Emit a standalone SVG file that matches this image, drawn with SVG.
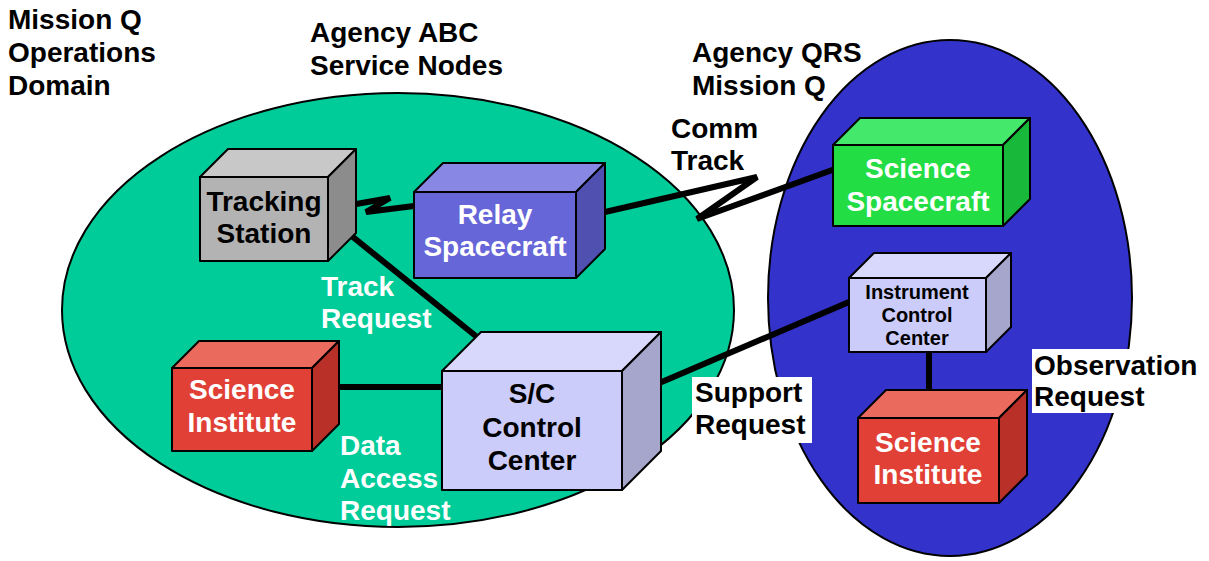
<svg xmlns="http://www.w3.org/2000/svg" width="1209" height="561" viewBox="0 0 1209 561">
<style>
text{font-family:"Liberation Sans",Arial,sans-serif;font-weight:bold;font-size:28px}
.w{fill:#ffffff}
.k{fill:#000000}
.c{text-anchor:middle}
.s{font-size:20px}
.b{stroke:#000;stroke-width:2;stroke-linejoin:round}
.ln{fill:none;stroke:#000;stroke-width:6;stroke-linejoin:miter}
</style>
<rect width="1209" height="561" fill="#ffffff"/>
<g id="domain-green">
<ellipse cx="398" cy="310" rx="336" ry="217" fill="#00cc99" stroke="#000" stroke-width="2"/>
</g>
<g id="domain-blue">
<ellipse cx="950" cy="298" rx="182" ry="258" fill="#3333cc" stroke="#000" stroke-width="2"/>
</g>
<g id="labels">
<text class="k" x="8" y="29">Mission Q</text>
<text class="k" x="8" y="62">Operations</text>
<text class="k" x="8" y="95">Domain</text>
<text class="k" x="310" y="42">Agency ABC</text>
<text class="k" x="310" y="75">Service Nodes</text>
<text class="k" x="692" y="62">Agency QRS</text>
<text class="k" x="692" y="95">Mission Q</text>
<text class="k" x="671" y="138">Comm</text>
<text class="k" x="671" y="170">Track</text>
<text class="w" x="321" y="296">Track</text>
<text class="w" x="321" y="328">Request</text>
<text class="w" x="340" y="455">Data</text>
<text class="w" x="340" y="488">Access</text>
<text class="w" x="340" y="520">Request</text>
<rect x="692" y="377" width="120" height="66" fill="#ffffff"/>
<text class="k" x="695" y="402">Support</text>
<text class="k" x="695" y="434">Request</text>
<rect x="1032" y="349" width="168" height="64" fill="#ffffff"/>
<text class="k" x="1034" y="375">Observation</text>
<text class="k" x="1034" y="406">Request</text>
</g>
<g id="connectors">
<polyline class="ln" points="345,206 390,198 366,212 414,206"/>
<polyline class="ln" points="592,215 757,177 697,219 835,169"/>
<line class="ln" x1="338" y1="225" x2="477" y2="337"/>
<line class="ln" x1="328" y1="387" x2="443" y2="387"/>
<line class="ln" x1="650" y1="387" x2="849" y2="302"/>
<line class="ln" x1="929" y1="352" x2="929" y2="402"/>
</g>
<g id="tracking-station">
<polygon class="b" points="200,177 228,149 356,149 328,177" fill="#c8c8c8"/>
<polygon class="b" points="328,177 356,149 356,233 328,261" fill="#8c8c8c"/>
<rect class="b" x="200" y="177" width="128" height="84" fill="#b3b3b3"/>
<text class="k c" x="264" y="211">Tracking</text>
<text class="k c" x="264" y="243">Station</text>
</g>
<g id="relay-spacecraft">
<polygon class="b" points="414,192 443,163 605,163 576,192" fill="#8888e4"/>
<polygon class="b" points="576,192 605,163 605,249 576,278" fill="#5050b0"/>
<rect class="b" x="414" y="192" width="162" height="86" fill="#6666d9"/>
<text class="w c" x="495" y="224">Relay</text>
<text class="w c" x="495" y="256">Spacecraft</text>
</g>
<g id="science-institute-abc">
<polygon class="b" points="172,368 199,341 339,341 312,368" fill="#ea6a5e"/>
<polygon class="b" points="312,368 339,341 339,424 312,451" fill="#b83028"/>
<rect class="b" x="172" y="368" width="140" height="83" fill="#e04035"/>
<text class="w c" x="242" y="399">Science</text>
<text class="w c" x="242" y="432">Institute</text>
</g>
<g id="sc-control-center">
<polygon class="b" points="442,371 481,332 661,332 622,371" fill="#d8d8fc"/>
<polygon class="b" points="622,371 661,332 661,451 622,490" fill="#a6a6cc"/>
<rect class="b" x="442" y="371" width="180" height="119" fill="#ccccfa"/>
<text class="k c" x="532" y="403">S/C</text>
<text class="k c" x="532" y="437">Control</text>
<text class="k c" x="532" y="470">Center</text>
</g>
<g id="science-spacecraft">
<polygon class="b" points="833,145 860,118 1030,118 1003,145" fill="#44e86a"/>
<polygon class="b" points="1003,145 1030,118 1030,199 1003,226" fill="#18b83a"/>
<rect class="b" x="833" y="145" width="170" height="81" fill="#22dd44"/>
<text class="w c" x="918" y="178">Science</text>
<text class="w c" x="918" y="211">Spacecraft</text>
</g>
<g id="instrument-control-center">
<polygon class="b" points="849,278 874,253 1011,253 986,278" fill="#d8d8fc"/>
<polygon class="b" points="986,278 1011,253 1011,327 986,352" fill="#a6a6cc"/>
<rect class="b" x="849" y="278" width="137" height="74" fill="#ccccfa"/>
<text class="k c s" x="917" y="299">Instrument</text>
<text class="k c s" x="917" y="322">Control</text>
<text class="k c s" x="917" y="345">Center</text>
</g>
<g id="science-institute-qrs">
<polygon class="b" points="858,418 886,390 1027,390 999,418" fill="#ea6a5e"/>
<polygon class="b" points="999,418 1027,390 1027,475 999,503" fill="#b83028"/>
<rect class="b" x="858" y="418" width="141" height="85" fill="#e04035"/>
<text class="w c" x="928" y="452">Science</text>
<text class="w c" x="928" y="484">Institute</text>
</g>
</svg>
